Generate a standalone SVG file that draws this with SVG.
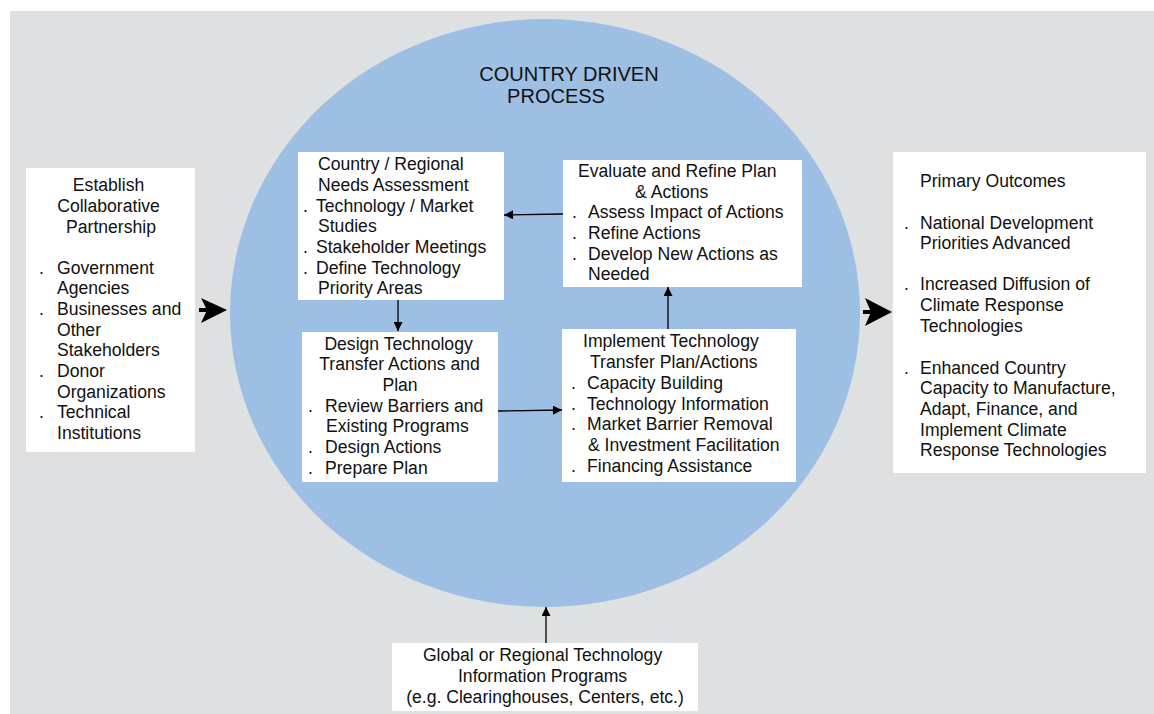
<svg xmlns="http://www.w3.org/2000/svg" width="1154" height="714" viewBox="0 0 1154 714">
  <defs>
    <marker id="tip" viewBox="0 0 10 10" refX="10" refY="5" markerWidth="9" markerHeight="9" markerUnits="userSpaceOnUse" orient="auto">
      <path d="M0,0 L10,5 L0,10 Z" fill="#000"/>
    </marker>
    <style>
      .box { fill: #ffffff; }
      .t { font-family: "Liberation Sans", Arial, sans-serif; font-size: 17.6px; fill: #111; }
      .c { text-anchor: middle; }
      .title { font-family: "Liberation Sans", Arial, sans-serif; font-size: 20px; fill: #111; text-anchor: middle; }
      .link { stroke: #000; stroke-width: 1.3; fill: none; marker-end: url(#tip); }
      .big { fill: #000; }
    </style>
  </defs>

  <!-- page background -->
  <rect x="10" y="11" width="1144" height="703" fill="#dfe0e2"/>

  <!-- process circle -->
  <g id="process">
    <ellipse cx="545" cy="313" rx="315" ry="294" fill="#9dbfe4"/>
    <text class="title"><tspan x="569" y="81">COUNTRY DRIVEN</tspan><tspan x="556" y="103">PROCESS</tspan></text>
  </g>

  <!-- partnership -->
  <g id="partnership">
    <rect class="box" x="26" y="168" width="169" height="284"/>
    <text class="t c">
      <tspan x="111" y="191">Establish</tspan>
      <tspan x="111" y="212">Collaborative</tspan>
      <tspan x="111" y="233">Partnership</tspan>
    </text>
    <text class="t">
      <tspan x="39" y="274">.</tspan><tspan x="57" y="274">Government</tspan>
      <tspan x="57" y="294">Agencies</tspan>
      <tspan x="39" y="315">.</tspan><tspan x="57" y="315">Businesses and</tspan>
      <tspan x="57" y="336">Other</tspan>
      <tspan x="57" y="356">Stakeholders</tspan>
      <tspan x="39" y="377">.</tspan><tspan x="57" y="377">Donor</tspan>
      <tspan x="57" y="398">Organizations</tspan>
      <tspan x="39" y="418">.</tspan><tspan x="57" y="418">Technical</tspan>
      <tspan x="57" y="439">Institutions</tspan>
    </text>
  </g>

  <!-- needs assessment -->
  <g id="needs">
    <rect class="box" x="298" y="152" width="206" height="148"/>
    <text class="t">
      <tspan x="318" y="170">Country / Regional</tspan>
      <tspan x="318" y="191">Needs Assessment</tspan>
      <tspan x="303" y="212">.</tspan><tspan x="316" y="212">Technology / Market</tspan>
      <tspan x="318" y="232">Studies</tspan>
      <tspan x="303" y="253">.</tspan><tspan x="316" y="253">Stakeholder Meetings</tspan>
      <tspan x="303" y="274">.</tspan><tspan x="316" y="274">Define Technology</tspan>
      <tspan x="318" y="294">Priority Areas</tspan>
    </text>
  </g>

  <!-- evaluate -->
  <g id="evaluate">
    <rect class="box" x="563" y="160" width="239" height="127"/>
    <text class="t">
      <tspan x="578" y="177">Evaluate and Refine Plan</tspan>
      <tspan x="635" y="198">&amp; Actions</tspan>
      <tspan x="572" y="218">.</tspan><tspan x="588" y="218">Assess Impact of Actions</tspan>
      <tspan x="572" y="239">.</tspan><tspan x="588" y="239">Refine Actions</tspan>
      <tspan x="572" y="260">.</tspan><tspan x="588" y="260">Develop New Actions as</tspan>
      <tspan x="588" y="280">Needed</tspan>
    </text>
  </g>

  <!-- design -->
  <g id="design">
    <rect class="box" x="302" y="332" width="196" height="150"/>
    <text class="t c">
      <tspan x="401" y="350">Design Technology</tspan>
      <tspan x="402" y="370">Transfer Actions and</tspan>
      <tspan x="400" y="391">Plan</tspan>
    </text>
    <text class="t">
      <tspan x="308" y="412">.</tspan><tspan x="325" y="412">Review Barriers and</tspan>
      <tspan x="326" y="432">Existing Programs</tspan>
      <tspan x="308" y="453">.</tspan><tspan x="325" y="453">Design Actions</tspan>
      <tspan x="308" y="474">.</tspan><tspan x="325" y="474">Prepare Plan</tspan>
    </text>
  </g>

  <!-- implement -->
  <g id="implement">
    <rect class="box" x="562" y="329" width="234" height="153"/>
    <text class="t">
      <tspan x="583" y="347">Implement Technology</tspan>
      <tspan x="590" y="368">Transfer Plan/Actions</tspan>
      <tspan x="571" y="389">.</tspan><tspan x="587" y="389">Capacity Building</tspan>
      <tspan x="571" y="410">.</tspan><tspan x="587" y="410">Technology Information</tspan>
      <tspan x="571" y="430">.</tspan><tspan x="587" y="430">Market Barrier Removal</tspan>
      <tspan x="588" y="451">&amp; Investment Facilitation</tspan>
      <tspan x="571" y="472">.</tspan><tspan x="587" y="472">Financing Assistance</tspan>
    </text>
  </g>

  <!-- outcomes -->
  <g id="outcomes">
    <rect class="box" x="893" y="152" width="253" height="321"/>
    <text class="t">
      <tspan x="920" y="187">Primary Outcomes</tspan>
      <tspan x="904" y="229">.</tspan><tspan x="920" y="229">National Development</tspan>
      <tspan x="920" y="249">Priorities Advanced</tspan>
      <tspan x="904" y="290">.</tspan><tspan x="920" y="290">Increased Diffusion of</tspan>
      <tspan x="920" y="311">Climate Response</tspan>
      <tspan x="920" y="332">Technologies</tspan>
      <tspan x="904" y="374">.</tspan><tspan x="920" y="374">Enhanced Country</tspan>
      <tspan x="920" y="394">Capacity to Manufacture,</tspan>
      <tspan x="920" y="415">Adapt, Finance, and</tspan>
      <tspan x="920" y="436">Implement Climate</tspan>
      <tspan x="920" y="456">Response Technologies</tspan>
    </text>
  </g>

  <!-- global programs -->
  <g id="global">
    <rect class="box" x="392" y="643" width="306" height="68"/>
    <text class="t c">
      <tspan x="545" y="661">Global or Regional Technology</tspan>
      <tspan x="545" y="682">Information Programs</tspan>
      <tspan x="545" y="703">(e.g. Clearinghouses, Centers, etc.)</tspan>
    </text>
  </g>

  <!-- connectors -->
  <g id="connectors">
    <line class="link" x1="563" y1="214" x2="504" y2="215"/>
    <line class="link" x1="398" y1="300" x2="398" y2="331"/>
    <line class="link" x1="498" y1="411" x2="562" y2="410"/>
    <line class="link" x1="668" y1="329" x2="668" y2="287"/>
    <line class="link" x1="546" y1="643" x2="546" y2="607"/>
    <path class="big" d="M199,308 H207 V312 H199 Z M201,298 L227,310 L201,323 L207,310 Z"/>
    <path class="big" d="M863,310 H871 V314 H863 Z M865,298 L892,312 L865,326 L871,312 Z"/>
  </g>
</svg>
